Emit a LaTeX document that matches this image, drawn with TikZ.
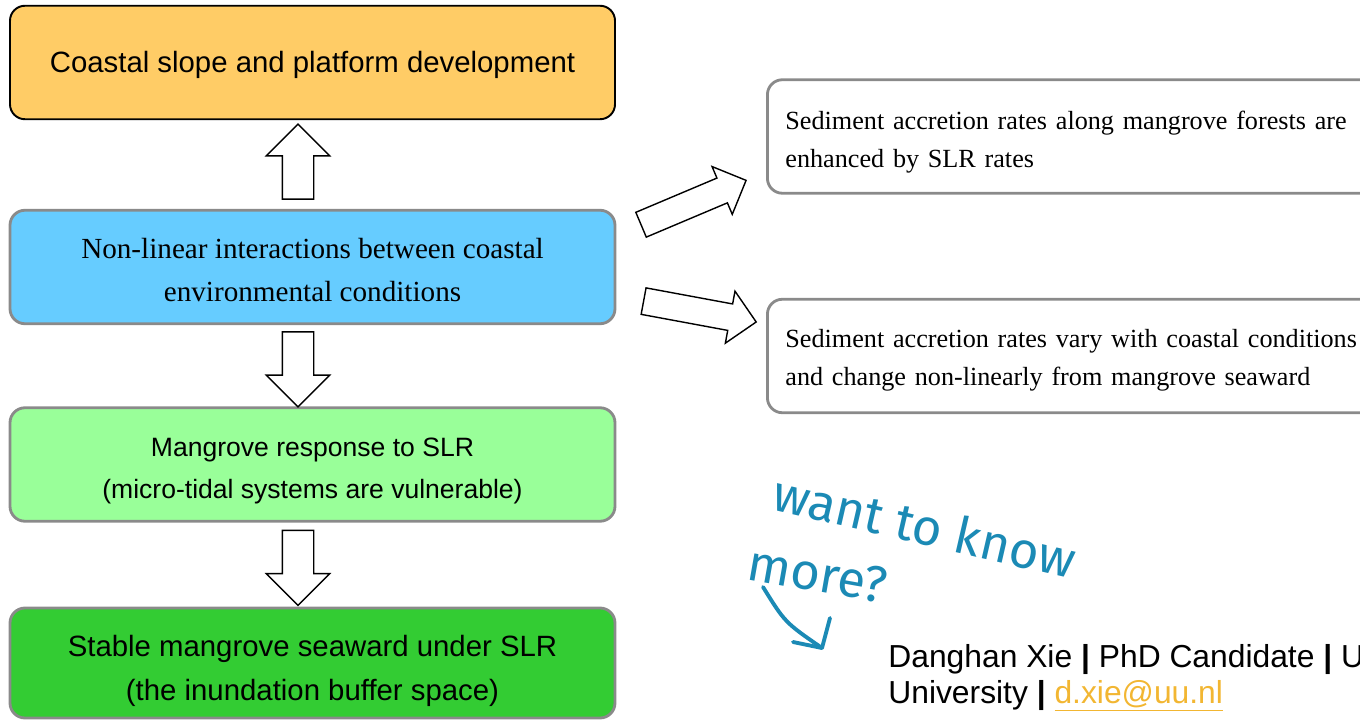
\documentclass[tikz,border=0pt]{standalone}
\usepackage{fontspec}
\setmainfont{Liberation Serif}
\setsansfont{Liberation Sans}
\newfontfamily\handfont{Fira Sans}
\usepackage{tikz}
\usetikzlibrary{positioning,arrows,calc,shapes}
\definecolor{slopecol}{HTML}{FFCC66}
\definecolor{interactcol}{HTML}{66CCFF}
\definecolor{responsecol}{HTML}{99FF99}
\definecolor{stablecol}{HTML}{33CC33}
\definecolor{framegray}{HTML}{8A8A8A}
\definecolor{handblue}{HTML}{1B8AB5}
\definecolor{mailgold}{HTML}{F2B632}
\newcommand{\toppad}[1]{\rule{0pt}{#1}}
\tikzset{
    box/.style = {
        draw=framegray,
        shape=rectangle,
        rounded corners=0.3cm,
        minimum height=2.27cm,
        minimum width=12.1cm,
        line width=1.6pt,
        align=center,
        font=\sffamily
    },
    finding/.style = {
        box,
        fill=white,
        anchor=west,
        inner xsep=0.36cm,
        text width=12.4cm,
        align=left,
        font=\rmfamily\fontsize{14.9}{21.6}\selectfont
    },
    blockarrow/.style = {
        draw,
        fill=white,
        shape=single arrow,
        single arrow tip angle=90,
        single arrow head extend=0.32cm,
        minimum width=1.24cm,
        minimum height=1.5cm,
        inner xsep=0pt,
        inner ysep=0.3cm,
        line width=0.8pt,
        anchor=tail
    },
    hand/.style = {
        handblue,
        font=\handfont\fontsize{29}{29}\selectfont
    },
    >=latex',
}

\begin{document}
\begin{tikzpicture}
    \useasboundingbox (0,0) rectangle (27.2,14.4);
    \clip (0,0) rectangle (27.2,14.4);

    % left column
    \node[box, draw=black, line width=1.1pt, fill=slopecol, font=\sffamily\fontsize{16.7}{20}\selectfont] (slope) at (6.25,13.15) {\toppad{15.4pt}Coastal slope and platform development};
    \node[box, fill=interactcol, font=\rmfamily\fontsize{16.6}{24.5}\selectfont] (interact) at (6.25,9.06) {\toppad{14.7pt}Non-linear interactions between coastal\\ environmental conditions};
    \node[box, fill=responsecol, font=\sffamily\fontsize{15.1}{23.9}\selectfont] (response) at (6.25,5.11) {\toppad{17.6pt}Mangrove response to SLR\\ (micro-tidal systems are vulnerable)};
    \node[box, fill=stablecol, minimum height=2.2cm, font=\sffamily\fontsize{16.7}{24.5}\selectfont] (stable) at (6.25,1.14) {\toppad{21.1pt}Stable mangrove seaward under SLR\\ (the inundation buffer space)};

    \node[blockarrow, rotate=90] (up) at ($(interact.north)+(-0.29,0.18)$) {};
    \node[blockarrow, rotate=-90] (down1) at ($(interact.south)+(-0.29,-0.12)$) {};
    \node[blockarrow, rotate=-90] (down2) at ($(response.south)+(-0.29,-0.14)$) {};

    % right column
    \node[finding] (accrete) at (15.32,11.67) {\toppad{17pt}Sediment accretion rates along mangrove forests are\\ enhanced by SLR rates};
    \node[finding] (vary) at (15.32,7.28) {\toppad{15.3pt}Sediment accretion rates vary with coastal conditions\\ and change non-linearly from mangrove seaward};

    \node[blockarrow, rotate=22.9, minimum width=1.01cm, single arrow head extend=0.25cm, inner ysep=0.255cm, minimum height=2.28cm] (toaccrete) at ($(interact.east)+(0.48,0.84)$) {};
    \node[blockarrow, rotate=-10.5, minimum width=1.03cm, single arrow head extend=0.26cm, inner ysep=0.255cm, minimum height=2.29cm] (tovary) at ($(interact.east)+(0.53,-0.68)$) {};

    % contact
    \node[hand, rotate=-13] (wantknow) at (18.5,3.88) {want to know};
    \node[hand, rotate=-10] (more) at (16.35,2.92) {more?};
    \coordinate (hookstart) at (15.26,2.66);
    \coordinate (hooktip) at (16.44,1.44);
    \draw[handblue, line width=2.2pt, line cap=round, line join=round] (hookstart) .. controls (15.7,1.95) .. (hooktip);
    \draw[handblue, line width=2.2pt, line cap=round, line join=round] (15.86,1.56) -- (hooktip) -- (16.6,2.04);

    \node[anchor=base west, inner sep=0pt, align=left, font=\sffamily\fontsize{18.1}{20.4}\selectfont] (contact) at (17.76,0.34) {Danghan Xie \textbf{|} PhD Candidate \textbf{|} Utrecht\\University \textbf{|} \textcolor{mailgold}{\underline{d.xie@uu.nl}}};
\end{tikzpicture}
\end{document}
